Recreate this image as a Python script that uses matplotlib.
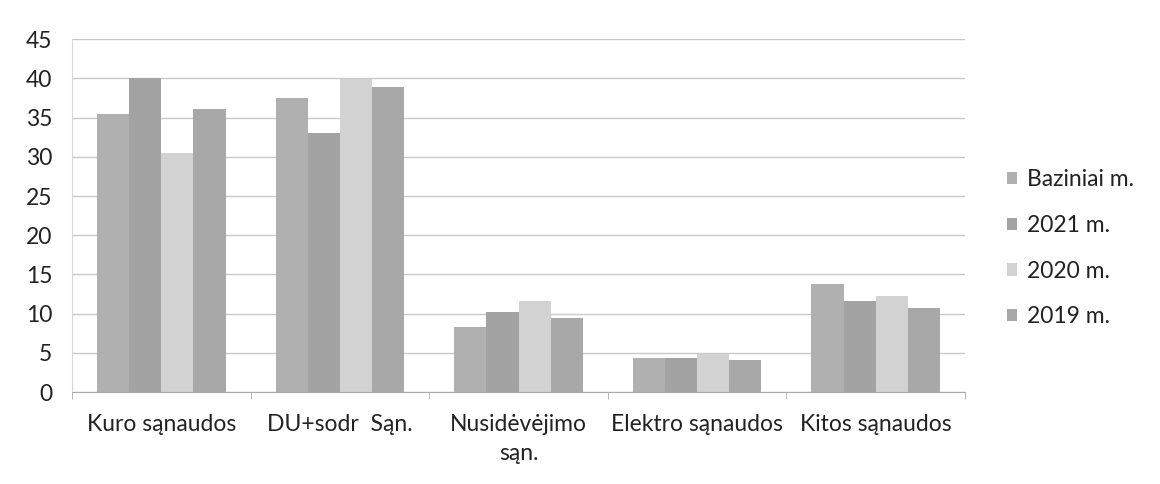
import matplotlib
matplotlib.use("Agg")
import matplotlib.pyplot as plt
import numpy as np

categories = ["Kuro sąnaudos", "DU+sodr  Sąn.", "Nusidėvėjimo\nsąn.", "Elektro sąnaudos", "Kitos sąnaudos"]
series_names = ["Baziniai m.", "2021 m.", "2020 m.", "2019 m."]
baziniai = [35.4, 37.5, 8.3, 4.3, 13.8]
m2021 = [40.0, 33.0, 10.2, 4.3, 11.6]
m2020 = [30.5, 39.9, 11.6, 4.9, 12.3]
m2019 = [36.1, 38.9, 9.4, 4.1, 10.7]
colors = ["#b0b0b0", "#a3a3a3", "#d2d2d2", "#a8a8a8"]

plt.rcParams['font.family'] = ['Lato', 'DejaVu Sans']

fig = plt.figure(figsize=(11.6, 4.84), dpi=100)
ax = fig.add_axes([0.062, 0.19, 0.770, 0.729])

x = np.arange(len(categories))
w = 0.18
data = [baziniai, m2021, m2020, m2019]
for i, (vals, c, name) in enumerate(zip(data, colors, series_names)):
    ax.bar(x + (i - 1.5) * w, vals, width=w, color=c, label=name, zorder=2)

ax.set_ylim(0, 45)
ax.set_xlim(-0.5, len(categories) - 0.5)
ax.set_yticks(np.arange(0, 46, 5))
ax.yaxis.grid(True, color="#c8c8c8", linewidth=1.0, zorder=0)
ax.set_axisbelow(True)
ax.tick_params(axis='y', length=0, labelsize=16.5, pad=14, colors="#222222")
ax.set_xticks(x)
ax.set_xticklabels(categories, fontsize=16.5, color="#222222", linespacing=1.45)
ax.tick_params(axis='x', length=0, pad=16)
ax.set_xticks(np.arange(-0.5, len(categories), 1.0), minor=True)
ax.tick_params(axis='x', which='minor', length=5, color="#aaaaaa")
for s in ["top", "right"]:
    ax.spines[s].set_visible(False)
ax.spines["left"].set_color("#d8d8d8")
ax.spines["bottom"].set_color("#aaaaaa")

leg = fig.legend(loc="center left", bbox_to_anchor=(0.850, 0.487), frameon=False,
                 fontsize=16.5, handlelength=0.45, handleheight=0.45, handletextpad=0.45,
                 labelspacing=1.08)
for t in leg.get_texts():
    t.set_color("#222222")

fig.savefig("out.png", dpi=100)
